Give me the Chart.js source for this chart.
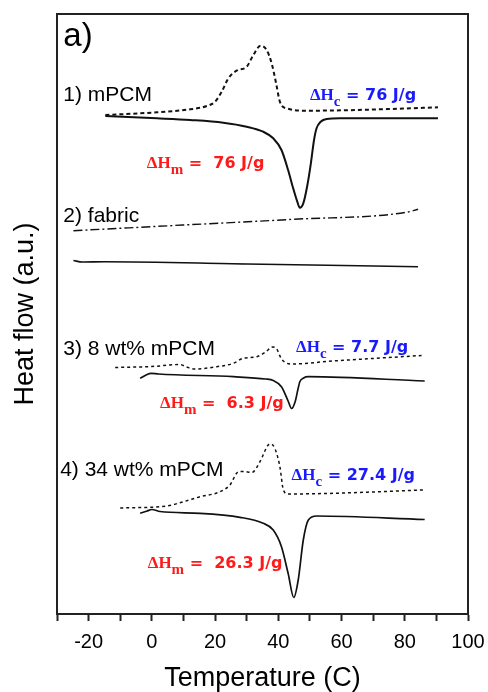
<!DOCTYPE html>
<html>
<head>
<meta charset="utf-8">
<title>DSC</title>
<script src="https://cdn.jsdelivr.net/npm/chart.js@4.4.1/dist/chart.umd.min.js"></script>
<style>
    body { margin: 0; background: #fff; }
    #caixa { width: 488px; height: 692px; }
</style>
</head>
<body>
<div id="caixa"><canvas id="grafico"></canvas></div>
<script>

// curvas DSC (temperatura em C, fluxo de calor em unidades arbitrárias, já deslocadas)
const mpcmCoolT  = [-14.7, 1.6, 12.1, 17.4, 20, 22.1, 24.2, 26.8, 30, 32.1, 34.4, 36.3, 37.9, 39.3, 40.5, 42.6, 48.9, 64.7, 90.5];
const mpcmCoolHF = [499, 501.7, 504.7, 508, 512.3, 522.3, 535.7, 543.3, 547.3, 559, 568.3, 564, 550.7, 530.7, 512.3, 505.7, 503.3, 504, 506.7];
const mpcmHeatT  = [-14.7, 1.6, 12.1, 22.6, 30, 35.2, 38.4, 41, 43.1, 44.7, 46, 46.8, 47.9, 49.1, 50.3, 51.3, 52.1, 53.4, 55.3, 59.5, 90.5];
const mpcmHeatHF = [498, 495.7, 494, 491.3, 487.3, 482.3, 475.7, 464, 444, 425.7, 412.3, 406.3, 410.7, 427.3, 450.7, 474, 485.7, 492.3, 495, 495.7, 495.7];

const fabricCoolT  = [-24.8, 10, 44.7, 80.5, 84.2];
const fabricCoolHF = [383.3, 389, 394.7, 401.7, 404.7];
const fabricHeatT  = [-24.8, -22, -15, 30, 84.2];
const fabricHeatHF = [353.5, 352, 352.3, 350, 347.3];

const pct8CoolT  = [-11.6, 0, 8.9, 11, 13.4, 20.5, 25.8, 28.9, 33.2, 36, 38.2, 39.5, 41, 42.5, 44, 57.3, 85.3];
const pct8CoolHF = [246.5, 247.5, 249.5, 247, 245, 247.3, 250.7, 255.7, 257.3, 262, 267, 265, 255, 251, 250, 253, 258.5];
const pct8HeatT  = [-3.7, -1.5, -0.3, 2.1, 25.8, 36, 38.4, 41, 43.1, 44.2, 45.3, 46.3, 46.8, 48, 49.5, 86.3];
const pct8HeatHF = [235.7, 239.5, 240.7, 240, 237.3, 235, 233.5, 227.3, 213, 205.5, 212, 226, 232.3, 236, 237.3, 233];

const pct34CoolT  = [-10, 4.7, 10, 15.3, 21.6, 24.7, 27.4, 29, 31.6, 34.2, 36.8, 37.6, 38.9, 40.5, 41.6, 43.1, 57.3, 85.8];
const pct34CoolHF = [106, 108, 112.3, 117.3, 122.3, 129, 142.3, 142.5, 141.5, 152.3, 169, 170, 165.7, 147.3, 124, 120, 120.7, 124];
const pct34HeatT  = [-3.7, -1.5, 0, 2.6, 15.3, 27.9, 35.2, 38.4, 41, 43.1, 44.9, 46.3, 47.9, 49.5, 52.1, 86.3];
const pct34HeatHF = [100.7, 103, 104.5, 102.5, 100.7, 96.7, 90.7, 84, 67.3, 40.7, 16.5, 34, 74, 94, 98, 94.5];

// rótulos das amostras e entalpias
const amostras = ['1) mPCM', '2) fabric', '3) 8 wt% mPCM', '4) 34 wt% mPCM'];
const entalpiaCrist = ['76', '7.7', '27.4'];
const entalpiaFusao = ['76', '6.3', '26.3'];

// onde cada texto fica, em coordenadas do gráfico (temperatura, fluxo)
const posAmostras = [[-28, 513], [-28, 392], [-28, 259], [-29, 138.3]];
const posCrist = [[50, 514], [45.6, 262.3], [44.2, 134]];
const posFusao = [[-1.6, 446.3], [2.6, 205.7], [-1.3, 45.7]];

function pontos(t, hf) {
    var lista = [];
    for (var i = 0; i < t.length; i++) {
        lista.push({ x: t[i], y: hf[i] });
    }
    return lista;
}

function curva(t, hf, dash, largura) {
    return {
        data: pontos(t, hf),
        borderColor: '#111',
        borderWidth: largura,
        borderDash: dash,
        pointRadius: 0,
        cubicInterpolationMode: 'monotone',
        fill: false
    };
}

function escreverEntalpia(ctx, x, y, sub, valor, cor, espacos) {
    ctx.fillStyle = cor;
    ctx.textAlign = 'left';
    ctx.textBaseline = 'alphabetic';
    ctx.font = 'bold 17px "Liberation Serif"';
    ctx.fillText('\u0394H', x, y);
    x += ctx.measureText('\u0394H').width;
    ctx.font = 'bold 15px "Liberation Serif"';
    ctx.fillText(sub, x, y + 6);
    x += ctx.measureText(sub).width;
    ctx.font = 'bold 16px "DejaVu Sans"';
    ctx.fillText(' =' + espacos + valor + ' J/g', x, y);
}

// moldura, letra do painel e anotações
const anotacoes = {
    id: 'anotacoes',
    afterDraw(chart) {
        var ctx = chart.ctx;
        var a = chart.chartArea;
        var sx = chart.scales.x;
        var sy = chart.scales.y;

        ctx.save();
        ctx.strokeStyle = '#222';
        ctx.lineWidth = 2;
        ctx.strokeRect(a.left, a.top, a.right - a.left, a.bottom - a.top);

        ctx.fillStyle = '#000';
        ctx.textAlign = 'left';
        ctx.textBaseline = 'alphabetic';
        ctx.font = '33px "Liberation Sans"';
        ctx.fillText('a)', sx.getPixelForValue(-28), sy.getPixelForValue(568));

        ctx.font = '21px "Liberation Sans"';
        for (var i = 0; i < amostras.length; i++) {
            ctx.fillText(amostras[i], sx.getPixelForValue(posAmostras[i][0]), sy.getPixelForValue(posAmostras[i][1]));
        }

        for (var j = 0; j < entalpiaCrist.length; j++) {
            escreverEntalpia(ctx, sx.getPixelForValue(posCrist[j][0]), sy.getPixelForValue(posCrist[j][1]),
                'c', entalpiaCrist[j], '#1a1aff', ' ');
            escreverEntalpia(ctx, sx.getPixelForValue(posFusao[j][0]), sy.getPixelForValue(posFusao[j][1]),
                'm', entalpiaFusao[j], '#ff1a1a', '  ');
        }
        ctx.restore();
    }
};

window.onload = () => {
    plotarGrafico();
}

function plotarGrafico() {

    Chart.defaults.font.family = '"Liberation Sans", Arial, sans-serif';
    Chart.defaults.color = '#000';

    let grafico = new Chart(document.getElementById('grafico'), {
        type: 'line',
        data: {
            datasets: [
                curva(mpcmCoolT, mpcmCoolHF, [4, 3], 2),
                curva(mpcmHeatT, mpcmHeatHF, [], 2),
                curva(fabricCoolT, fabricCoolHF, [9, 3, 2, 3], 1.4),
                curva(fabricHeatT, fabricHeatHF, [], 1.6),
                curva(pct8CoolT, pct8CoolHF, [3, 3], 1.5),
                curva(pct8HeatT, pct8HeatHF, [], 1.7),
                curva(pct34CoolT, pct34CoolHF, [3, 3], 1.5),
                curva(pct34HeatT, pct34HeatHF, [], 1.7)
            ]
        },
        options: {
            responsive: true,
            maintainAspectRatio: false,
            animation: false,
            layout: { padding: { top: 14, right: 20, left: 0, bottom: 0 } },
            plugins: {
                legend: { display: false },
                tooltip: { enabled: false }
            },
            scales: {
                x: {
                    type: 'linear',
                    min: -30,
                    max: 100,
                    // altura fixa e sem folga lateral extra para o rótulo "100"
                    afterFit(scale) {
                        scale.height = 78;
                        scale.paddingLeft = 0;
                        scale.paddingRight = 0;
                    },
                    border: { display: true, color: '#222', width: 2 },
                    grid: { drawOnChartArea: false, drawTicks: true, tickLength: 7, tickColor: '#222', tickWidth: 2 },
                    ticks: {
                        stepSize: 10,
                        autoSkip: false,
                        maxRotation: 0,
                        padding: 9,
                        font: { size: 20 },
                        callback: (v) => (v % 20 === 0 ? v : '')
                    },
                    title: {
                        display: true,
                        text: 'Temperature (C)',
                        font: { size: 27, lineHeight: 1 },
                        padding: { top: 0, bottom: 0 }
                    }
                },
                y: {
                    type: 'linear',
                    min: 0,
                    max: 600,
                    afterFit(scale) { scale.width = 57; },
                    border: { display: true, color: '#222', width: 2 },
                    grid: { display: false },
                    ticks: { display: false },
                    title: {
                        display: true,
                        text: 'Heat flow (a.u.)',
                        font: { size: 27, lineHeight: 1.2 },
                        padding: { top: 9, bottom: 0 }
                    }
                }
            }
        },
        plugins: [anotacoes]
    });
}
</script>
</body>
</html>
